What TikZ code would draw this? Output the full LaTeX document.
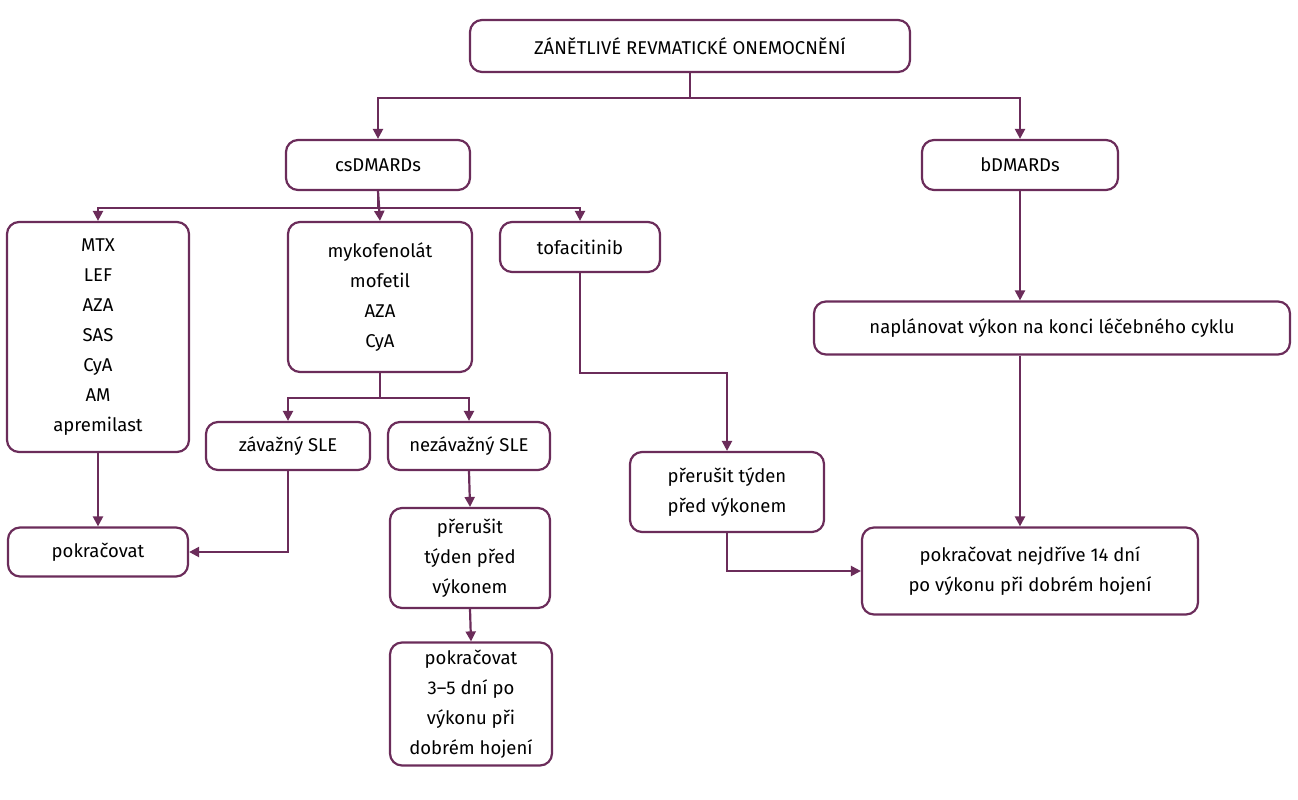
\documentclass[tikz,border=0pt]{standalone}
\usepackage{fontspec}
\setmainfont{Fira Sans}
\usetikzlibrary{arrows.meta}
\definecolor{pur}{HTML}{6B2C5A}
\begin{document}
\begin{tikzpicture}[x=1pt,y=-1pt,
 box/.style={draw=pur,line width=2.2pt,rounded corners=12pt,align=center,inner sep=0pt,fill=white,
   font=\fontsize{18.5}{30}\selectfont,text=black},
 arr/.style={draw=pur,line width=2.2pt,-{Triangle[length=10pt,width=10pt]}}]
\useasboundingbox (0,0) rectangle (1298,800);
\node[box,minimum width=440pt,minimum height=52pt] (top) at (690,46) {ZÁNĚTLIVÉ REVMATICKÉ ONEMOCNĚNÍ};
\node[box,minimum width=184pt,minimum height=50pt] (cs) at (378,165) {csDMARDs};
\node[box,minimum width=196pt,minimum height=50pt] (bd) at (1020,165) {bDMARDs};
\node[box,minimum width=182pt,minimum height=230pt] (mtx) at (98,337) {MTX\\LEF\\AZA\\SAS\\CyA\\AM\\apremilast};
\node[box,minimum width=184pt,minimum height=150pt] (myko) at (380,297) {mykofenolát\\mofetil\\AZA\\CyA};
\node[box,minimum width=160pt,minimum height=50pt] (tofa) at (580,247) {tofacitinib};
\node[box,minimum width=164pt,minimum height=48pt] (zav) at (288,446) {závažný SLE};
\node[box,minimum width=162pt,minimum height=48pt] (nez) at (469,446) {nezávažný SLE};
\node[box,minimum width=180pt,minimum height=49pt] (pok) at (98,552) {pokračovat};
\node[box,minimum width=160pt,minimum height=100pt] (prer1) at (470,558) {přerušit\\týden před\\výkonem};
\node[box,minimum width=162pt,minimum height=123pt] (pok35) at (471,704) {pokračovat\\3–5 dní po\\výkonu při\\dobrém hojení};
\node[box,minimum width=194pt,minimum height=80pt] (prer2) at (727,492) {přerušit týden\\před výkonem};
\node[box,minimum width=336pt,minimum height=87pt] (right) at (1030,571) {pokračovat nejdříve 14 dní\\po výkonu při dobrém hojení};
\node[box,minimum width=476pt,minimum height=53pt] (napl) at (1052,328) {naplánovat výkon na konci léčebného cyklu};
\draw[arr] (top.south) -- ++(0,25) -| (cs.north);
\draw[arr] (top.south) -- ++(0,25) -| (bd.north);
\draw[arr] (cs.south) -- ++(0,17) -| (mtx.north);
\draw[arr] (cs.south) -- (myko.north);
\draw[arr] (cs.south) -- ++(0,17) -| (tofa.north);
\draw[arr] (myko.south) -- ++(0,25) -| (zav.north);
\draw[arr] (myko.south) -- ++(0,25) -| (nez.north);
\draw[arr] (mtx.south) -- (pok.north);
\draw[arr] (zav.south) |- (pok.east);
\draw[arr] (nez.south) -- (prer1.north);
\draw[arr] (prer1.south) -- (pok35.north);
\draw[arr] (tofa.south) -- ++(0,100) -| (prer2.north);
\draw[arr] (prer2.south) |- (right.west);
\draw[arr] (bd.south) -- (napl.north -| bd.south);
\draw[arr] (napl.south -| bd.south) -- (right.north -| bd.south);
\end{tikzpicture}
\end{document}
